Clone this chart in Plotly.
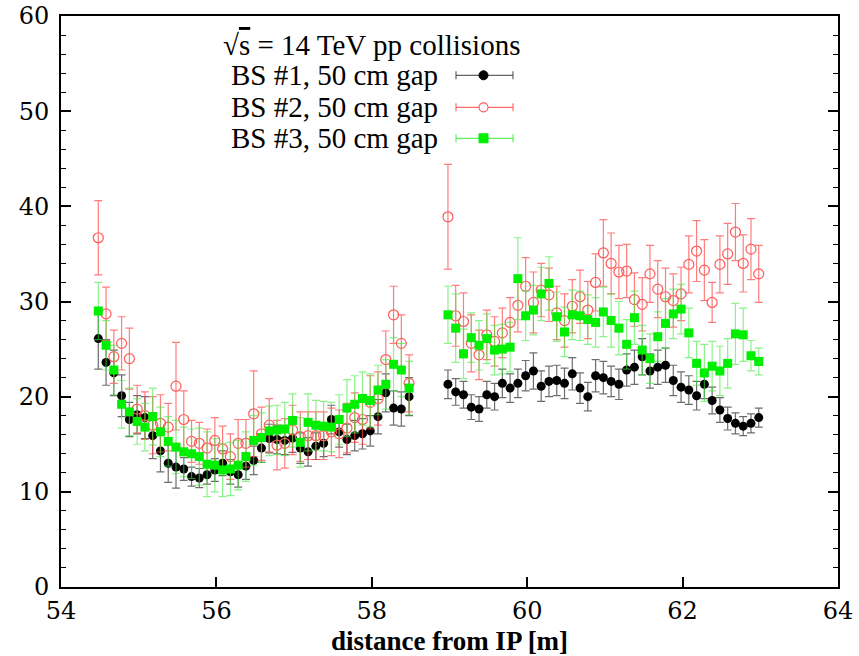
import plotly.graph_objects as go

X_LEFT = [54.48, 54.58, 54.68, 54.78, 54.88, 54.98, 55.08, 55.18, 55.28, 55.38,
          55.48, 55.58, 55.68, 55.78, 55.88, 55.98, 56.08, 56.18, 56.28, 56.38,
          56.48, 56.58, 56.68, 56.78, 56.88, 56.98, 57.08, 57.18, 57.28, 57.38,
          57.48, 57.58, 57.68, 57.78, 57.88, 57.98, 58.08, 58.18, 58.28, 58.38, 58.48]
X_RIGHT = [58.98, 59.08, 59.18, 59.28, 59.38, 59.48, 59.58, 59.68, 59.78, 59.88,
           59.98, 60.08, 60.18, 60.28, 60.38, 60.48, 60.58, 60.68, 60.78, 60.88,
           60.98, 61.08, 61.18, 61.28, 61.38, 61.48, 61.58, 61.68, 61.78, 61.88,
           61.98, 62.08, 62.18, 62.28, 62.38, 62.48, 62.58, 62.68, 62.78, 62.88, 62.98]
X = X_LEFT + X_RIGHT

BS1 = [26.1, 23.6, 22.5, 20.1, 17.6, 18.1, 17.8, 15.9, 14.3, 13.0,
       12.6, 12.4, 11.6, 11.45, 11.8, 12.3, 13.0, 12.1, 11.8, 12.7,
       13.3, 14.6, 15.6, 15.5, 15.4, 15.65, 14.6, 14.2, 14.8, 15.1,
       17.6, 16.3, 15.5, 15.9, 16.1, 16.4, 17.9, 20.4, 18.8, 18.7, 20.0,
       21.3, 20.5, 20.2, 18.9, 18.7, 20.2, 20.0, 21.4, 20.9, 21.4,
       22.2, 22.7, 21.1, 21.6, 21.7, 21.4, 22.4, 20.9, 20.0, 22.2,
       22.0, 21.6, 21.3, 22.8, 23.1, 24.2, 22.7, 23.1, 23.3, 21.7,
       21.0, 20.7, 20.1, 21.3, 19.6, 18.6, 17.7, 17.2, 16.9, 17.2, 17.8]
BS1_ERR = [3.2, 2.4, 2.4, 2.2, 1.8, 2.0, 2.2, 2.4, 2.2, 2.0,
           2.2, 1.2, 1.0, 1.0, 1.0, 1.2, 1.3, 1.3, 1.3, 1.4,
           1.5, 1.5, 1.5, 1.5, 1.5, 1.5, 1.6, 1.5, 1.4, 1.4,
           1.5, 1.6, 1.6, 1.6, 1.6, 1.6, 1.8, 2.0, 1.8, 1.8, 2.0,
           1.5, 1.4, 1.4, 1.3, 1.3, 1.4, 1.4, 1.5, 1.5, 1.5,
           1.6, 1.9, 1.6, 1.6, 1.6, 1.6, 1.7, 1.6, 1.5, 1.7,
           1.7, 1.6, 1.6, 1.7, 1.8, 1.9, 1.8, 1.8, 1.8, 1.6,
           1.6, 1.5, 1.5, 1.5, 1.4, 1.3, 1.2, 1.1, 1.0, 1.0, 1.0]

BS2 = [36.7, 28.7, 24.2, 25.6, 24.0, 18.7, 18.0, 17.0, 17.2, 16.8,
       21.1, 17.6, 15.3, 15.1, 14.6, 15.4, 14.5, 13.7, 15.1, 15.1,
       18.2, 16.1, 17.0, 14.9, 15.1, 16.5, 15.8, 15.9, 15.9, 15.9,
       16.3, 16.1, 16.7, 17.8, 17.6, 19.4, 19.8, 23.9, 28.6, 25.6, 21.4,
       38.9, 28.5, 27.9, 25.6, 24.4, 26.5, 25.8, 26.7, 27.8, 29.6,
       31.6, 29.9, 31.2, 30.7, 28.8, 28.0, 29.5, 30.5, 29.1, 32.0,
       35.1, 34.0, 33.1, 33.2, 30.2, 29.7, 32.9, 31.3, 30.5, 30.1,
       30.8, 33.9, 35.3, 33.3, 29.9, 33.9, 35.0, 37.3, 34.0, 35.5, 32.9]
BS2_ERR = [3.9, 2.8, 2.8, 2.8, 3.2, 2.5, 2.5, 3.0, 3.0, 2.5,
           4.6, 3.0, 2.2, 2.2, 2.0, 2.4, 2.4, 2.4, 2.5, 2.5,
           4.5, 2.8, 2.8, 2.6, 2.6, 2.6, 2.6, 2.5, 2.5, 2.5,
           2.5, 2.5, 2.6, 2.6, 2.6, 2.8, 2.8, 3.0, 3.0, 3.0, 3.0,
           5.5, 3.2, 3.0, 3.0, 2.6, 2.6, 2.6, 2.6, 2.6, 2.8,
           3.0, 3.2, 2.8, 2.8, 2.8, 2.8, 2.8, 2.8, 3.0, 3.0,
           3.5, 3.2, 2.8, 2.8, 2.8, 2.8, 3.0, 3.0, 3.0, 2.8,
           2.8, 3.0, 3.2, 3.2, 2.1, 3.0, 3.2, 3.0, 3.0, 3.2, 3.0]

BS3 = [29.0, 25.4, 22.8, 19.2, 18.4, 17.4, 16.8, 17.9, 16.3, 15.3,
       14.7, 14.2, 14.0, 13.7, 12.9, 12.8, 12.3, 12.4, 12.8, 13.7,
       15.4, 15.7, 16.4, 16.5, 16.6, 17.5, 15.2, 17.3, 17.0, 16.9,
       16.8, 17.6, 18.8, 19.2, 19.8, 19.6, 20.7, 21.3, 23.4, 22.8, 20.9,
       28.6, 27.2, 24.5, 26.2, 25.4, 26.1, 24.9, 25.0, 25.2, 32.4,
       28.5, 29.1, 30.8, 31.9, 28.4, 26.8, 28.6, 28.5, 28.1, 27.8,
       28.9, 28.0, 27.2, 25.5, 28.3, 24.9, 24.0, 26.3, 27.7, 28.7,
       29.2, 26.7, 23.5, 22.5, 23.2, 22.7, 23.5, 26.6, 26.5, 24.3, 23.7]
BS3_ERR = [3.0, 2.6, 2.6, 2.5, 2.5, 2.4, 2.5, 3.0, 2.6, 2.6,
           2.8, 2.6, 2.6, 3.0, 3.4, 2.8, 2.8, 2.8, 2.6, 2.6,
           2.6, 2.6, 2.6, 2.6, 2.8, 2.8, 2.6, 3.0, 2.6, 2.6,
           2.6, 2.6, 3.0, 3.0, 2.8, 2.8, 2.6, 2.6, 2.8, 2.8, 2.8,
           3.0, 3.6, 2.6, 2.6, 2.6, 2.6, 2.6, 2.6, 2.6, 4.3,
           2.6, 2.6, 2.8, 2.8, 2.6, 2.6, 2.6, 2.6, 2.6, 2.6,
           2.6, 2.8, 2.8, 2.6, 2.8, 2.6, 2.6, 2.6, 2.6, 2.6,
           2.6, 2.6, 2.3, 3.0, 2.6, 2.6, 2.6, 3.2, 2.8, 1.6, 1.4]

LABELS = ["BS #1, 50 cm gap", "BS #2, 50 cm gap", "BS #3, 50 cm gap"]
HEADER = "√<span style='text-decoration:overline'>s</span> = 14 TeV pp collisions"
X_TICKS = [54, 56, 58, 60, 62, 64]
Y_TICKS = [0, 10, 20, 30, 40, 50, 60]

SERIF = "Liberation Serif"
TICKFONT = "DejaVu Serif"

fig = go.Figure()
fig.add_trace(go.Scatter(
    x=X, y=BS1, mode="markers", name=LABELS[0],
    marker=dict(symbol="circle", size=9, color="black"),
    error_y=dict(type="data", array=BS1_ERR, color="rgba(60,60,60,0.75)", thickness=1.2, width=4)))
fig.add_trace(go.Scatter(
    x=X, y=BS2, mode="markers", name=LABELS[1],
    marker=dict(symbol="circle-open", size=10, color="#ff5a5a", line=dict(width=1.2)),
    error_y=dict(type="data", array=BS2_ERR, color="rgba(255,70,70,0.7)", thickness=1.2, width=4)))
fig.add_trace(go.Scatter(
    x=X, y=BS3, mode="markers", name=LABELS[2],
    marker=dict(symbol="square", size=9, color="#00ee00"),
    error_y=dict(type="data", array=BS3_ERR, color="rgba(60,235,60,0.6)", thickness=1.2, width=4)))

# legend drawn gnuplot-style (text left, key right)
L, R, T, B = 61, 838, 15.7, 586.7
def px(xp):
    return (xp - L) / (R - L)
def py(yp):
    return (B - yp) / (B - T)

annotations = [dict(text=HEADER, x=px(371), y=py(45), xref="paper", yref="paper",
                    xanchor="center", yanchor="middle", showarrow=False,
                    font=dict(family=SERIF, size=29, color="black"))]
shapes = []
key_y = [75, 107, 138]
key_col = ["rgba(60,60,60,0.8)", "rgba(255,70,70,0.8)", "rgba(60,235,60,0.8)"]
for i, lab in enumerate(LABELS):
    yk = py(key_y[i])
    annotations.append(dict(text=lab, x=px(440), y=yk, xref="paper", yref="paper",
                            xanchor="right", yanchor="middle", showarrow=False,
                            font=dict(family=SERIF, size=29, color="black")))
    shapes.append(dict(type="line", xref="paper", yref="paper", x0=px(456), x1=px(513),
                       y0=yk, y1=yk, line=dict(color=key_col[i], width=1.2)))
    for xc in (456, 513):
        shapes.append(dict(type="line", xref="paper", yref="paper", x0=px(xc), x1=px(xc),
                           y0=py(key_y[i] - 4), y1=py(key_y[i] + 4),
                           line=dict(color=key_col[i], width=1.2)))
    if i == 0:
        shapes.append(dict(type="circle", xref="paper", yref="paper",
                           x0=px(479), x1=px(488), y0=py(key_y[i] - 4.5), y1=py(key_y[i] + 4.5),
                           fillcolor="black", line=dict(color="black", width=1)))
    elif i == 1:
        shapes.append(dict(type="circle", xref="paper", yref="paper",
                           x0=px(479), x1=px(488), y0=py(key_y[i] - 4.5), y1=py(key_y[i] + 4.5),
                           fillcolor="white", line=dict(color="#ff5a5a", width=1.2)))
    else:
        shapes.append(dict(type="rect", xref="paper", yref="paper",
                           x0=px(479), x1=px(488), y0=py(key_y[i] - 4.5), y1=py(key_y[i] + 4.5),
                           fillcolor="#00ee00", line=dict(color="#00ee00", width=1)))

fig.update_layout(
    width=859, height=656,
    margin=dict(l=L, r=859 - R, t=T, b=656 - B),
    paper_bgcolor="white", plot_bgcolor="white",
    showlegend=False,
    annotations=annotations, shapes=shapes,
    font=dict(family=SERIF, color="black", size=28),
)
fig.update_xaxes(
    range=[54, 64], tickvals=X_TICKS, ticktext=[str(v) for v in X_TICKS],
    ticks="inside", ticklen=10, tickwidth=1.5, tickcolor="black",
    showline=True, linecolor="black", linewidth=2, mirror=True,
    showgrid=False, zeroline=False, automargin=False,
    ticklabelstandoff=1,
    tickfont=dict(family=TICKFONT, size=24, color="black"),
    title=dict(text="<b>distance from IP [m]</b>", font=dict(family=SERIF, size=27, color="black"),
               standoff=9),
)
fig.update_yaxes(
    range=[0, 60], tickvals=Y_TICKS, ticktext=[str(v) for v in Y_TICKS],
    ticks="inside", ticklen=10, tickwidth=1.5, tickcolor="black",
    minor=dict(dtick=2, ticks="inside", ticklen=5, tickwidth=1.2, tickcolor="black", showgrid=False),
    showline=True, linecolor="black", linewidth=2, mirror="ticks",
    showgrid=False, zeroline=False, automargin=False,
    ticklabelstandoff=5,
    tickfont=dict(family=TICKFONT, size=24, color="black"),
)

fig.write_html("out.html")
